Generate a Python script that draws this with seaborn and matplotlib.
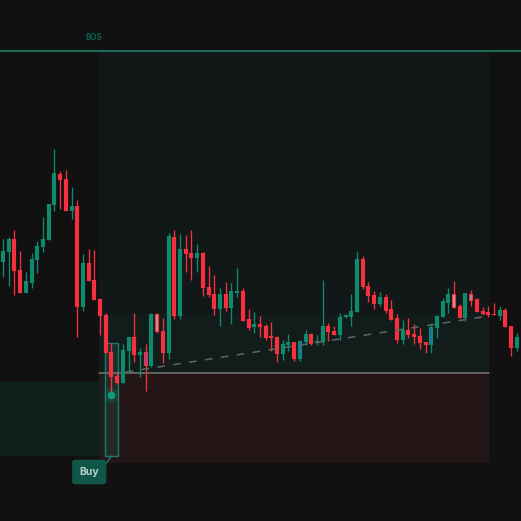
import pandas as pd
import matplotlib.pyplot as plt
from matplotlib.patches import Rectangle
import seaborn as sns

# price levels, one entry per candle
opens = [259, 269, 282, 251, 228, 238, 261, 274, 281, 316, 347, 342, 310, 315, 214, 258, 241, 222, 206, 169,
         145, 138, 170, 184, 166, 169, 155, 207, 190, 168, 284, 205, 272, 268, 263, 268, 234, 227, 212, 227,
         213, 228, 230, 202, 194, 197, 195, 185, 184, 167, 176, 179, 162, 179, 187, 178, 179, 195, 190, 186,
         204, 204, 209, 262, 235, 226, 217, 224, 212, 203, 181, 191, 187, 185, 179, 176, 193, 204, 218, 227,
         215, 203, 227, 222, 210, 209, 207, 205, 211, 195, 173]
closes = [270, 282, 250, 228, 240, 262, 275, 282, 317, 348, 341, 310, 315, 214, 258, 240, 221, 205, 168, 144,
          138, 171, 184, 166, 169, 155, 207, 189, 168, 285, 205, 272, 267, 263, 268, 233, 226, 212, 227, 213,
          230, 230, 200, 193, 197, 194, 183, 183, 167, 177, 179, 162, 180, 187, 177, 180, 195, 189, 186, 204,
          206, 210, 262, 234, 225, 217, 224, 210, 201, 181, 191, 186, 184, 178, 176, 194, 205, 220, 227, 213,
          203, 228, 220, 209, 207, 206, 206, 211, 194, 173, 184]
highs = [282, 284, 291, 270, 249, 268, 280, 304, 317, 372, 350, 351, 334, 321, 267, 272, 271, 223, 208, 178,
         149, 177, 184, 208, 173, 177, 208, 208, 203, 288, 291, 287, 286, 291, 277, 269, 255, 246, 233, 239,
         238, 253, 233, 212, 209, 205, 197, 199, 185, 181, 187, 179, 181, 191, 188, 186, 241, 198, 195, 208,
         207, 227, 270, 265, 239, 230, 229, 227, 221, 207, 201, 203, 197, 193, 179, 198, 206, 223, 233, 240,
         217, 228, 231, 223, 214, 215, 218, 215, 213, 195, 188]
lows = [244, 235, 226, 228, 228, 233, 248, 269, 281, 310, 312, 310, 302, 184, 210, 240, 221, 186, 168, 126,
        137, 138, 148, 159, 144, 130, 154, 188, 158, 162, 202, 202, 249, 241, 249, 225, 224, 206, 195, 210,
        197, 224, 200, 191, 188, 184, 181, 170, 159, 161, 170, 160, 160, 176, 176, 176, 176, 180, 186, 181,
        203, 195, 209, 232, 219, 212, 215, 208, 201, 178, 177, 183, 177, 172, 168, 168, 183, 204, 208, 213,
        203, 200, 215, 209, 206, 204, 206, 201, 194, 165, 170]

# candles with a tinted core
tinted_index = [25, 27, 52, 75, 79, 82]
tinted_color = ["#7a4bb0", "#b9a9b0", "#1f6fb0", "#1f6fb0", "#a9b9bc", "#8fa8b4"]

bos_level = 470
target_level = 207
entry_level = 148
stop_level = 58
zone_top = 139
zone_bottom = 65
buy_top = 178
signal_price = 126
trend_x = [21.5, 85.1]
trend_y = [149, 205]

BG = "#111111"
GREEN = "#0e8a6c"
RED = "#f5303f"

rows = []
bodies = []
for i in range(len(opens)):
    side = "up" if closes[i] >= opens[i] else "down"
    rows += [(i, lows[i], side), (i, highs[i], side)]
    bodies += [(i, opens[i], side), (i, closes[i], side)]
wicks = pd.DataFrame(rows, columns=["candle", "price", "side"])
body = pd.DataFrame(bodies, columns=["candle", "price", "side"])

sns.set_theme(style="dark")
plt.rcParams["font.family"] = ["Inter", "DejaVu Sans"]

fig = plt.figure(figsize=(5.21, 5.21), dpi=100, facecolor=BG)
ax = fig.add_axes([0, 0, 1, 1], facecolor=BG)

left, right = -0.525, 90.72
start, end = 16.8, 85.1

# zones
ax.add_patch(Rectangle((start, target_level), end - start, bos_level - target_level, color="#111817", lw=0))
ax.add_patch(Rectangle((start, entry_level), end - start, target_level - entry_level, color="#121d1b", lw=0))
ax.add_patch(Rectangle((start, stop_level), end - start, entry_level - stop_level, color="#241516", lw=0))
ax.add_patch(Rectangle((left, zone_bottom), start - left, zone_top - zone_bottom, color="#0f1f1c", lw=0))
ax.add_patch(Rectangle((start, zone_bottom), 1.05, entry_level - zone_bottom, color="#1a1f1c", lw=0))

ax.axhline(bos_level, color="#1f8a70", lw=1.1)
ax.plot([start, end], [entry_level, entry_level], color="#6b6f70", lw=1.2)

palette = {"up": GREEN, "down": RED}
sns.lineplot(data=wicks, x="candle", y="price", hue="side", units="candle", estimator=None, sort=False,
             palette=palette, lw=0.95, legend=False, ax=ax, solid_capstyle="butt")
sns.lineplot(data=body, x="candle", y="price", hue="side", units="candle", estimator=None, sort=False,
             palette=palette, lw=3.0, legend=False, ax=ax, solid_capstyle="butt")

for idx, col in zip(tinted_index, tinted_color):
    ax.plot([idx, idx], [opens[idx] - 1, closes[idx] + 1] if opens[idx] > closes[idx] else [opens[idx] + 1, closes[idx] - 1],
            color=col, lw=1.1, solid_capstyle="butt")

ax.plot(trend_x, trend_y, color="#5f6566", lw=1.1, dashes=(5, 5.5))

# buy marker
ax.add_patch(Rectangle((17.85, zone_bottom), 2.3, buy_top - zone_bottom, facecolor="#1e4f47", alpha=0.4, lw=0))
ax.add_patch(Rectangle((17.85, zone_bottom), 2.3, buy_top - zone_bottom, fill=False, edgecolor="#1f7a69", lw=1))
ax.plot([18.9], [signal_price], "o", color="#0e9b7a", ms=4.5)
ax.plot([18.9], [signal_price], "o", color="#0e9b7a", ms=11, alpha=0.18, mew=0)
ax.plot([19.0, 17.7], [zone_bottom, 55], color="#1f7a69", lw=1)

ax.text(15.1, 49, "Buy", color="#b5d2ca", fontsize=7.5, fontweight="bold", ha="center", va="center",
        bbox=dict(boxstyle="round,pad=0.7,rounding_size=0.3", fc="#0f5548", ec="none"))
ax.text(16, 484, "BOS", color="#0e5f4f", fontsize=5.8, fontweight="bold", ha="center", va="center")

ax.set_xlim(left, right)
ax.set_ylim(0, 521)
ax.set_axis_off()
fig.savefig("out.png", dpi=100, facecolor=BG)
